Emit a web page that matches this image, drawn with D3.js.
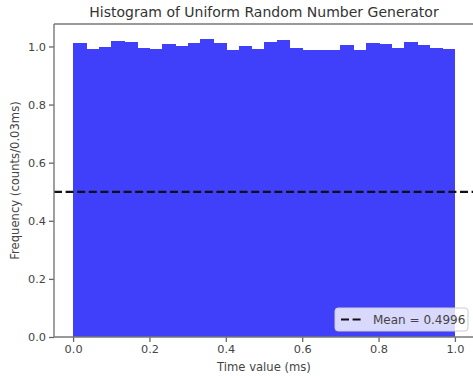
<!DOCTYPE html>
<html>
<head>
<meta charset="utf-8">
<script src="https://cdn.jsdelivr.net/npm/d3@7"></script>
<style>
  html, body { margin: 0; padding: 0; background: #fff; }
  svg { display: block; }
  text { font-family: "DejaVu Sans", sans-serif; }
</style>
</head>
<body>
<svg id="chart" width="473" height="376"></svg>
<script>
const title = "Histogram of Uniform Random Number Generator";
const xLabel = "Time value (ms)";
const yLabel = "Frequency (counts/0.03ms)";
const histRange = [0, 1];
const frequencies = [
  1.013, 0.990, 0.999, 1.018, 1.016, 0.994, 0.992, 1.008, 1.000, 1.011,
  1.026, 1.013, 0.987, 1.000, 0.990, 1.016, 1.021, 0.994, 0.987, 0.987,
  0.987, 1.005, 0.988, 1.011, 1.009, 0.994, 1.014, 1.005, 0.996, 0.992
];
const meanValue = 0.4996;
const xTicks = [0.0, 0.2, 0.4, 0.6, 0.8, 1.0];
const yTicks = [0.0, 0.2, 0.4, 0.6, 0.8, 1.0];
const legendLabel = "Mean = 0.4996";

const svg = d3.select("#chart");
const margin = { left: 54, right: -1, top: 24, bottom: 39 };
const W = 473, H = 376;
const x0 = margin.left, x1 = W - margin.right;
const y0 = H - margin.bottom, y1 = margin.top;

const n = frequencies.length;
const binW = (histRange[1] - histRange[0]) / n;
const xPad = (histRange[1] - histRange[0]) * 0.05;
const x = d3.scaleLinear().domain([histRange[0] - xPad, histRange[1] + xPad]).range([x0, x1]);
const yMax = d3.max(frequencies) * 1.05;
const y = d3.scaleLinear().domain([0, yMax]).range([y0, y1]);

// bars
svg.append("g").attr("shape-rendering", "crispEdges")
  .selectAll("rect").data(frequencies).join("rect")
  .attr("x", (d, i) => x(histRange[0] + i * binW))
  .attr("width", (d, i) => x(histRange[0] + (i + 1) * binW) - x(histRange[0] + i * binW) + (i < n - 1 ? 1 : 0))
  .attr("y", d => y(d))
  .attr("height", d => y(0) - y(d))
  .attr("fill", "#4040fb");

// mean line
svg.append("line")
  .attr("x1", x0).attr("x2", x1)
  .attr("y1", y(meanValue)).attr("y2", y(meanValue))
  .attr("stroke", "#111").attr("stroke-width", 2.2)
  .attr("stroke-dasharray", "8,3.6");

// axes
const fmt = d3.format(".1f");
const xAxis = svg.append("g").attr("transform", `translate(0,${y0})`)
  .call(d3.axisBottom(x).tickValues(xTicks).tickFormat(fmt).tickSize(5).tickSizeOuter(0));
const yAxis = svg.append("g").attr("transform", `translate(${x0},0)`)
  .call(d3.axisLeft(y).tickValues(yTicks).tickFormat(fmt).tickSize(5).tickSizeOuter(0));
[xAxis, yAxis].forEach(g => {
  g.select(".domain").remove();
  g.selectAll(".tick line").attr("stroke", "#666").attr("stroke-width", 1.3);
  g.selectAll(".tick text").attr("fill", "#444").style("font-size", "11.3px")
    .style("font-family", "'DejaVu Sans', sans-serif");
});
xAxis.selectAll(".tick text").attr("dy", "0.71em").attr("y", 8);
yAxis.selectAll(".tick text").attr("x", -8);

// spines
const spine = svg.append("g").attr("stroke", "#777").attr("stroke-width", 1.4).attr("fill", "none");
spine.append("line").attr("x1", x0).attr("x2", x0).attr("y1", y1).attr("y2", y0);
spine.append("line").attr("x1", x0).attr("x2", x1).attr("y1", y0).attr("y2", y0);
spine.append("line").attr("x1", x0).attr("x2", x1).attr("y1", y1).attr("y2", y1);
spine.append("line").attr("x1", x1).attr("x2", x1).attr("y1", y1).attr("y2", y0);

// title & labels
svg.append("text").attr("x", (x0 + x1) / 2).attr("y", 17)
  .attr("text-anchor", "middle").attr("fill", "#333").style("font-size", "14px").text(title);
svg.append("text").attr("x", (x0 + x1) / 2).attr("y", 371)
  .attr("text-anchor", "middle").attr("fill", "#444").style("font-size", "11.6px").text(xLabel);
svg.append("text")
  .attr("transform", `translate(19,${(y0 + y1) / 2}) rotate(-90)`)
  .attr("text-anchor", "middle").attr("fill", "#444").style("font-size", "11.6px").text(yLabel);

// legend
const lg = svg.append("g").attr("transform", "translate(335,308)");
lg.append("rect").attr("width", 133).attr("height", 23).attr("rx", 3)
  .attr("fill", "rgba(255,255,255,0.8)").attr("stroke", "#ccc").attr("stroke-width", 1);
lg.append("line").attr("x1", 6).attr("x2", 27).attr("y1", 11.5).attr("y2", 11.5)
  .attr("stroke", "#111").attr("stroke-width", 2.2).attr("stroke-dasharray", "8,3.6");
lg.append("text").attr("x", 38).attr("y", 15.8).attr("fill", "#444")
  .style("font-size", "12px").text(legendLabel);
</script>
</body>
</html>
